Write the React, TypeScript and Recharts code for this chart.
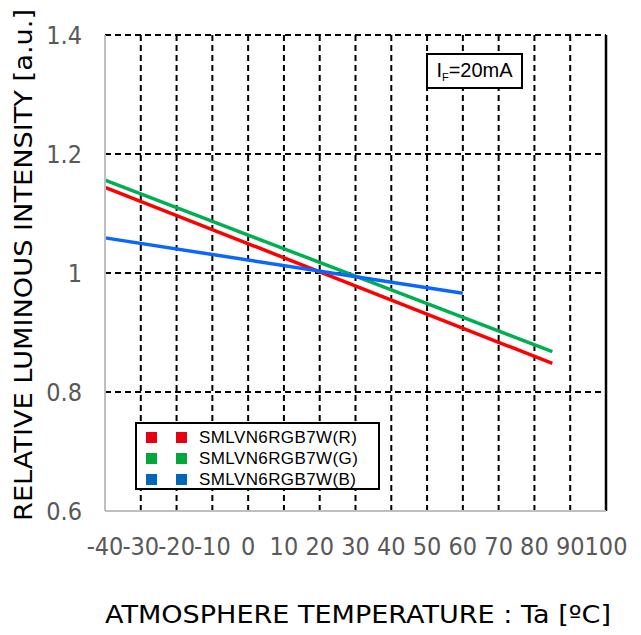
import React from 'react';
import { LineChart, Line, XAxis, YAxis, CartesianGrid, ReferenceLine } from 'recharts';

// temperature [°C] vs relative luminous intensity [a.u.]
const TEMPS_RG = [-40, 85];
const RED = [1.144, 0.848];
const GREEN = [1.156, 0.868];
const TEMPS_B = [-40, 60];
const BLUE = [1.059, 0.966];

const X_TICKS = [-40, -30, -20, -10, 0, 10, 20, 30, 40, 50, 60, 70, 80, 90, 100];
const Y_TICKS = [0.6, 0.8, 1, 1.2, 1.4];

const SERIES = [
  { name: 'SMLVN6RGB7W(R)', temps: TEMPS_RG, values: RED, color: '#ff0000', swatch: '#e60012' },
  { name: 'SMLVN6RGB7W(G)', temps: TEMPS_RG, values: GREEN, color: '#00b050', swatch: '#00a73c' },
  { name: 'SMLVN6RGB7W(B)', temps: TEMPS_B, values: BLUE, color: '#0a66ff', swatch: '#0068b7' },
];

const tickFont = "'DejaVu Sans Condensed', 'DejaVu Sans', sans-serif";
const titleFont = "'DejaVu Sans', sans-serif";

const LegendBox = () => (
  <div
    style={{
      position: 'absolute',
      left: 135,
      top: 422,
      width: 245,
      height: 68,
      boxSizing: 'border-box',
      border: '2px solid #000',
      background: '#fff',
      fontFamily: "'Liberation Sans', Arial, sans-serif",
      fontSize: 17,
      color: '#000',
      paddingTop: 3,
    }}
  >
    {SERIES.map((s) => (
      <div key={s.name} style={{ display: 'flex', alignItems: 'center', height: 21 }}>
        <span style={{ width: 11, height: 11, background: s.swatch, marginLeft: 9 }} />
        <span style={{ width: 11, height: 11, background: s.swatch, marginLeft: 19 }} />
        <span style={{ marginLeft: 12, letterSpacing: 0.4 }}>{s.name}</span>
      </div>
    ))}
  </div>
);

export default function App() {
  return (
    <div style={{ position: 'absolute', left: 0, top: 0, width: 641, height: 635, background: '#fff' }}>
      <LineChart width={641} height={635} margin={{ top: 35, right: 35, left: 0, bottom: 12 }}>
        <CartesianGrid stroke="#000" strokeWidth={2} strokeDasharray="6 4" />
        <XAxis
          type="number"
          dataKey="t"
          domain={[-40, 100]}
          ticks={X_TICKS}
          interval={0}
          height={112}
          tickSize={0}
          tickMargin={26}
          axisLine={{ stroke: '#bfbfbf', strokeWidth: 2 }}
          tick={{ fill: '#595959', fontSize: 25, fontFamily: tickFont }}
          allowDuplicatedCategory={false}
          label={{
            content: () => (
              <text
                x={358}
                y={623}
                textAnchor="middle"
                fill="#000"
                fontSize={25}
                fontFamily={titleFont}
                textLength={506}
                lengthAdjust="spacingAndGlyphs"
              >
                ATMOSPHERE TEMPERATURE : Ta [ºC]
              </text>
            ),
          }}
        />
        <YAxis
          type="number"
          domain={[0.6, 1.4]}
          ticks={Y_TICKS}
          interval={0}
          width={105}
          tickSize={0}
          tickMargin={23}
          axisLine={{ stroke: '#bfbfbf', strokeWidth: 2 }}
          tick={{ fill: '#595959', fontSize: 25, fontFamily: tickFont }}
          label={{
            content: () => (
              <text
                x={32}
                y={265}
                transform="rotate(-90 32 265)"
                textAnchor="middle"
                fill="#000"
                fontSize={25}
                fontFamily={titleFont}
                textLength={512}
                lengthAdjust="spacingAndGlyphs"
              >
                RELATIVE LUMINOUS INTENSITY [a.u.]
              </text>
            ),
          }}
        />
        <ReferenceLine x={100} stroke="#000" strokeWidth={2.5} />
        {SERIES.map((s) => (
          <Line
            key={s.name}
            name={s.name}
            data={s.temps.map((t, i) => ({ t, v: s.values[i] }))}
            dataKey="v"
            stroke={s.color}
            strokeWidth={3.5}
            dot={false}
            activeDot={false}
            isAnimationActive={false}
          />
        ))}
      </LineChart>
      <LegendBox />
      <div
        style={{
          position: 'absolute',
          left: 426,
          top: 53,
          width: 97,
          height: 36,
          boxSizing: 'border-box',
          border: '2px solid #000',
          background: '#fff',
          fontFamily: "'Liberation Sans', Arial, sans-serif",
          fontSize: 20,
          color: '#000',
          display: 'flex',
          alignItems: 'center',
          justifyContent: 'center',
        }}
      >
        <span>
          I<sub style={{ fontSize: 11, verticalAlign: -4 }}>F</sub>=20mA
        </span>
      </div>
    </div>
  );
}
